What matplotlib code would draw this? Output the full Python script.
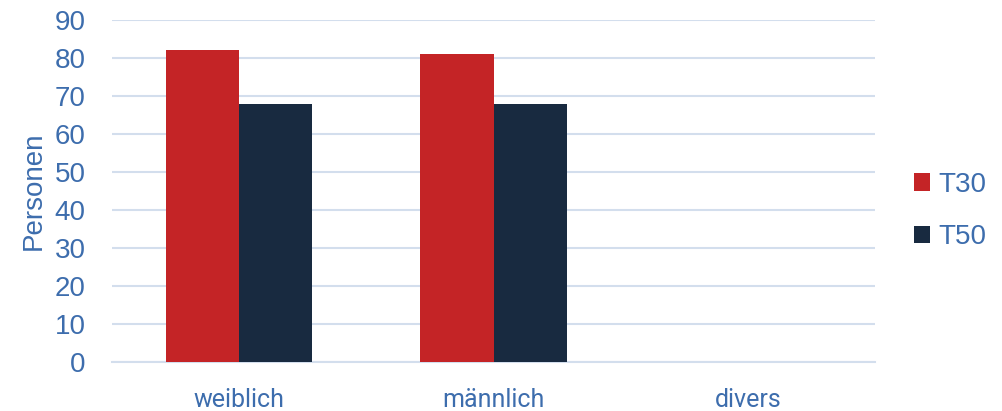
import matplotlib
matplotlib.use("Agg")
import matplotlib.pyplot as plt
import numpy as np

categories = ["weiblich", "männlich", "divers"]
series_names = ["T30", "T50"]
t30 = [82, 81, 0]
t50 = [68, 68, 0]
yticks = [0, 10, 20, 30, 40, 50, 60, 70, 80, 90]

text_color = "#3D6DAD"
grid_color = "#D3DEED"
colors = ["#C42426", "#182A40"]

fig = plt.figure(figsize=(10.02, 4.11), dpi=100)
ax = fig.add_axes([0.1118, 0.1192, 0.8733 - 0.1118, 0.9513 - 0.1192])

x = np.arange(len(categories))
w = 0.2875
ax.bar(x - w / 2, t30, width=w, color=colors[0], label=series_names[0], zorder=3)
ax.bar(x + w / 2, t50, width=w, color=colors[1], label=series_names[1], zorder=3)

ax.set_xlim(-0.5, len(categories) - 0.5)
ax.set_ylim(0, 90)
ax.set_yticks(yticks)
ax.set_yticklabels([str(v) for v in yticks], fontfamily="Liberation Sans",
                   fontsize=20, color=text_color)
ax.set_xticks(x)
ax.set_xticklabels(categories, fontfamily="Roboto", fontsize=18, color=text_color)
ax.tick_params(axis="y", length=0, pad=19)
ax.tick_params(axis="x", length=0, pad=19)

ax.grid(axis="y", color=grid_color, linewidth=1.5, zorder=0)
for s in ["top", "right", "left"]:
    ax.spines[s].set_visible(False)
ax.spines["bottom"].set_color(grid_color)
ax.spines["bottom"].set_linewidth(1.5)

ax.set_ylabel("Personen", fontfamily="Liberation Sans", fontsize=20,
              color=text_color, labelpad=6)

leg = ax.legend(loc="center left", bbox_to_anchor=(1.018, 0.4415), frameon=False,
                prop={"family": "Liberation Sans", "size": 20},
                handlelength=0.6, handleheight=0.6, handletextpad=0.3,
                labelspacing=0.95)
for t in leg.get_texts():
    t.set_color(text_color)

fig.savefig("out.png", dpi=100)
